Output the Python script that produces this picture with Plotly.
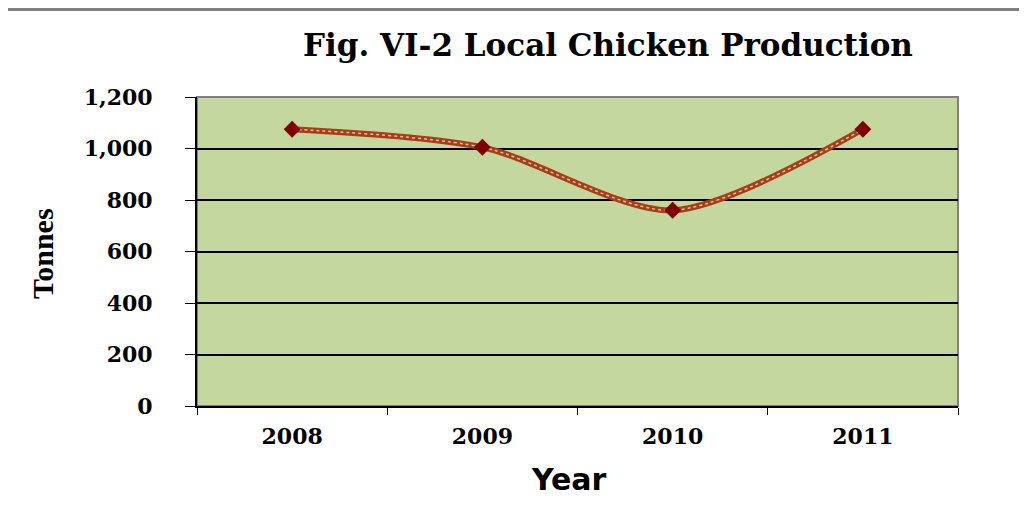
import plotly.graph_objects as go

years = ["2008", "2009", "2010", "2011"]
tonnes = [1075, 1005, 760, 1075]
y_ticks = [0, 200, 400, 600, 800, 1000, 1200]
y_labels = ["0", "200", "400", "600", "800", "1,000", "1,200"]

serif = "Liberation Serif, Times New Roman, serif"
wide_serif = "DejaVu Serif, serif"

fig = go.Figure()
# thick brown line
fig.add_trace(go.Scatter(x=years, y=tonnes, mode="lines",
                         line=dict(color="#A63E1B", width=6, shape="spline", smoothing=0.8),
                         hoverinfo="skip", showlegend=False))
# light dotted highlight on top
fig.add_trace(go.Scatter(x=years, y=tonnes, mode="lines+markers",
                         line=dict(color="#E8C08A", width=1.5, dash="dot", shape="spline", smoothing=0.8),
                         marker=dict(symbol="diamond", size=13, color="#800000"),
                         showlegend=False))

# the page body adds 8px, margins take that into account
fig.update_layout(
    width=1027, height=515,
    margin=dict(l=189, r=77, t=89, b=117),
    paper_bgcolor="white",
    plot_bgcolor="#C4D79E",
    title=dict(text="Fig. VI-2 Local Chicken Production", x=0.540, xref="paper", xanchor="center",
               y=0.928, yanchor="middle",
               font=dict(family=wide_serif, size=31, color="black", weight="bold")),
    font=dict(family=serif, color="black"),
)
fig.update_xaxes(
    type="category", tickson="boundaries", ticks="outside", ticklen=7, tickcolor="black",
    showline=True, linecolor="black", linewidth=2, showgrid=False,
    ticklabelstandoff=10,
    tickfont=dict(family=wide_serif, size=22, color="black", weight="bold"),
    range=[-0.5, 3.5],
)
fig.update_yaxes(
    range=[0, 1200], tickvals=y_ticks, ticktext=y_labels,
    ticks="outside", ticklen=10, tickcolor="black",
    showline=True, linecolor="black", linewidth=2,
    showgrid=True, gridcolor="black", gridwidth=1.5,
    zeroline=False, ticklabelstandoff=28,
    tickfont=dict(family=wide_serif, size=22, color="black", weight="bold"),
)
fig.add_annotation(text="Tonnes", textangle=-90, x=-0.2037, y=0.495, xref="paper", yref="paper",
                   showarrow=False, xanchor="center", yanchor="middle",
                   font=dict(family=serif, size=30, color="black", weight="bold"))
fig.add_annotation(text="Year", x=0.489, y=-0.239, xref="paper", yref="paper",
                   showarrow=False, xanchor="center", yanchor="middle",
                   font=dict(family="DejaVu Sans, sans-serif", size=30, color="black",
                             weight="bold"))
# gray border of plot area (top and right)
fig.add_shape(type="rect", xref="paper", yref="paper", x0=0, y0=0, x1=1, y1=1,
              line=dict(color="#808080", width=2), layer="below")
# separator line at top of page
fig.add_shape(type="line", xref="paper", yref="paper", x0=-0.26, x1=1.1, y0=1.283, y1=1.283,
              line=dict(color="#808080", width=3))

fig.write_html("out.html")
